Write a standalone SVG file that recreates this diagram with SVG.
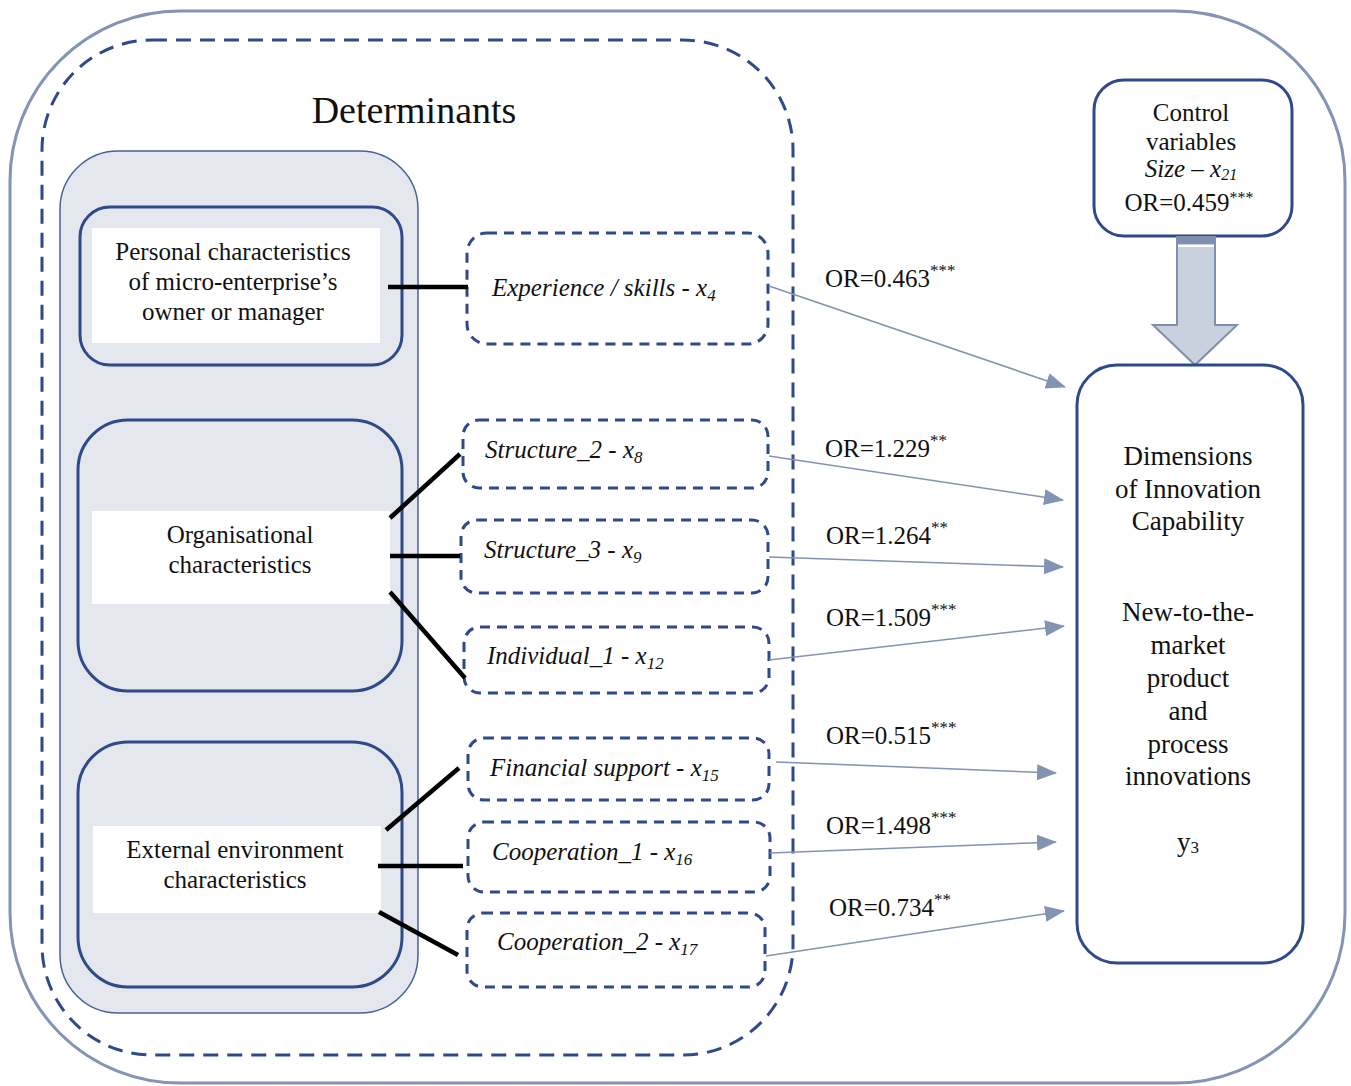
<svg xmlns="http://www.w3.org/2000/svg" width="1351" height="1086" viewBox="0 0 1351 1086">
<defs>
<style>
.t{font-family:"Liberation Serif","Times New Roman",serif;font-size:25px;fill:#111}
.it{font-style:italic}
.sup{font-size:17px}
.box{fill:#e4e7ee;stroke:#2f4a8a;stroke-width:3}
.dbox{fill:#fff;stroke:#2f4a8a;stroke-width:3;stroke-dasharray:10 7}
.white{fill:#fff}
.blk{stroke:#000;stroke-width:4.5}
.arr{stroke:#8393b3;stroke-width:1.6;fill:none;marker-end:url(#ah)}
</style>
<marker id="ah" viewBox="0 0 20 16" refX="19" refY="8" markerWidth="20" markerHeight="16" markerUnits="userSpaceOnUse" orient="auto">
<path d="M0,0 L20,8 L0,16 Z" fill="#8393b3"/>
</marker>
</defs>
<rect width="1351" height="1086" fill="#fff"/>
<g id="outer">
<rect x="10" y="11" width="1335" height="1072" rx="170" ry="170" fill="none" stroke="#8494b4" stroke-width="3"/>
</g>
<g id="determinants">
<rect x="42" y="40" width="751" height="1015" rx="110" ry="110" fill="none" stroke="#2f4a8a" stroke-width="3" stroke-dasharray="15 9"/>
<text class="t" x="414" y="123" text-anchor="middle" style="font-size:38px">Determinants</text>
</g>
<g id="panel">
<rect x="60" y="151" width="358" height="862" rx="58" ry="58" fill="#e4e7ee" stroke="#4a6099" stroke-width="1.5"/>
</g>
<g id="personal">
<rect class="box" x="80" y="207" width="322" height="158" rx="30" ry="30"/>
<rect class="white" x="92" y="228" width="288" height="115"/>
<text class="t" x="233" y="260" text-anchor="middle">Personal characteristics</text>
<text class="t" x="233" y="290" text-anchor="middle">of micro-enterprise’s</text>
<text class="t" x="233" y="320" text-anchor="middle">owner or manager</text>
</g>
<g id="organisational">
<rect class="box" x="78" y="420" width="324" height="271" rx="50" ry="50"/>
<rect class="white" x="92" y="511" width="298" height="93"/>
<text class="t" x="240" y="543" text-anchor="middle">Organisational</text>
<text class="t" x="240" y="573" text-anchor="middle">characteristics</text>
</g>
<g id="external">
<rect class="box" x="78" y="742" width="324" height="245" rx="50" ry="50"/>
<rect class="white" x="93" y="826" width="288" height="87"/>
<text class="t" x="235" y="858" text-anchor="middle">External environment</text>
<text class="t" x="235" y="888" text-anchor="middle">characteristics</text>
</g>
<g id="experience">
<rect class="dbox" x="467" y="233" width="301" height="111" rx="20" ry="20"/>
<text class="t it" x="492" y="296">Experience / skills - x<tspan font-size="17" dy="5">4</tspan></text>
</g>
<g id="structure2">
<rect class="dbox" x="463" y="420" width="305" height="68" rx="16" ry="16"/>
<text class="t it" x="485" y="458">Structure_2 - x<tspan font-size="17" dy="5">8</tspan></text>
</g>
<g id="structure3">
<rect class="dbox" x="461" y="520" width="307" height="73" rx="16" ry="16"/>
<text class="t it" x="484" y="558">Structure_3 - x<tspan font-size="17" dy="5">9</tspan></text>
</g>
<g id="individual1">
<rect class="dbox" x="464" y="627" width="305" height="66" rx="16" ry="16"/>
<text class="t it" x="487" y="664">Individual_1 - x<tspan font-size="17" dy="5">12</tspan></text>
</g>
<g id="financial">
<rect class="dbox" x="468" y="738" width="301" height="62" rx="16" ry="16"/>
<text class="t it" x="490" y="776">Financial support - x<tspan font-size="17" dy="5">15</tspan></text>
</g>
<g id="cooperation1">
<rect class="dbox" x="468" y="822" width="302" height="70" rx="16" ry="16"/>
<text class="t it" x="492" y="860">Cooperation_1 - x<tspan font-size="17" dy="5">16</tspan></text>
</g>
<g id="cooperation2">
<rect class="dbox" x="467" y="913" width="298" height="74" rx="16" ry="16"/>
<text class="t it" x="497" y="950">Cooperation_2 - x<tspan font-size="17" dy="5">17</tspan></text>
</g>
<g id="control">
<rect x="1094" y="80" width="198" height="156" rx="30" ry="30" fill="#fff" stroke="#2f4a8a" stroke-width="3"/>
<text class="t" x="1191" y="121" text-anchor="middle">Control</text>
<text class="t" x="1191" y="150" text-anchor="middle">variables</text>
<text class="t it" x="1191" y="177" text-anchor="middle">Size – x<tspan font-size="16" dy="3">21</tspan></text>
<text class="t" x="1189" y="211" text-anchor="middle">OR=0.459<tspan font-size="16" dy="-8">***</tspan></text>
</g>
<g id="bigarrow">
<path d="M1177,237 L1215,237 L1215,325 L1237,325 L1195,365 L1153,325 L1177,325 Z" fill="#c9d0de" stroke="#7f8fb0" stroke-width="2"/>
<rect x="1178" y="238" width="36" height="6" fill="#7f8fb0"/>
<line x1="1178" y1="246" x2="1214" y2="246" stroke="#fff" stroke-width="2"/>
</g>
<g id="innovation">
<rect x="1077" y="365" width="226" height="598" rx="40" ry="40" fill="#fff" stroke="#2f4a8a" stroke-width="3"/>
<g class="t" style="font-size:27px" text-anchor="middle">
<text x="1188" y="465">Dimensions</text>
<text x="1188" y="498">of Innovation</text>
<text x="1188" y="530">Capability</text>
<text x="1188" y="621">New-to-the-</text>
<text x="1188" y="654">market</text>
<text x="1188" y="687">product</text>
<text x="1188" y="720">and</text>
<text x="1188" y="753">process</text>
<text x="1188" y="785">innovations</text>
<text x="1188" y="851">y<tspan font-size="17" dy="2">3</tspan></text>
</g>
</g>
<g id="connectors">
<line class="blk" x1="388" y1="287" x2="468" y2="287"/>
<line class="blk" x1="390" y1="518" x2="460" y2="454"/>
<line class="blk" x1="390" y1="556" x2="460" y2="556"/>
<line class="blk" x1="390" y1="592" x2="465" y2="678"/>
<line class="blk" x1="386" y1="830" x2="459" y2="768"/>
<line class="blk" x1="378" y1="866" x2="463" y2="866"/>
<line class="blk" x1="379" y1="912" x2="458" y2="955"/>
<line class="arr" x1="769" y1="286" x2="1065" y2="387"/>
<line class="arr" x1="769" y1="456" x2="1063" y2="500"/>
<line class="arr" x1="769" y1="557" x2="1063" y2="567"/>
<line class="arr" x1="769" y1="660" x2="1064" y2="626"/>
<line class="arr" x1="776" y1="762" x2="1056" y2="773"/>
<line class="arr" x1="770" y1="853" x2="1056" y2="842"/>
<line class="arr" x1="766" y1="956" x2="1064" y2="911"/>
</g>
<g id="labels" class="t">
<text x="825" y="287">OR=0.463<tspan class="sup" dy="-11">***</tspan></text>
<text x="825" y="457">OR=1.229<tspan class="sup" dy="-11">**</tspan></text>
<text x="826" y="544">OR=1.264<tspan class="sup" dy="-11">**</tspan></text>
<text x="826" y="626">OR=1.509<tspan class="sup" dy="-11">***</tspan></text>
<text x="826" y="744">OR=0.515<tspan class="sup" dy="-11">***</tspan></text>
<text x="826" y="834">OR=1.498<tspan class="sup" dy="-11">***</tspan></text>
<text x="829" y="916">OR=0.734<tspan class="sup" dy="-11">**</tspan></text>
</g>
</svg>
